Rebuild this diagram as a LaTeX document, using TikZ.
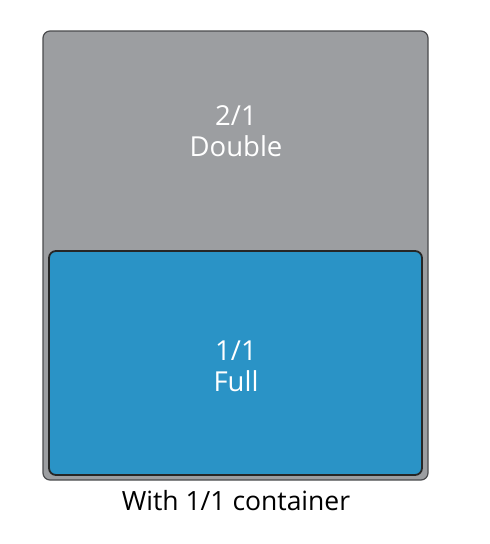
\documentclass[tikz,border=0pt]{standalone}
\usepackage{fontspec}
\setmainfont{Open Sans}
\definecolor{pangray}{HTML}{9C9EA1}
\definecolor{panblue}{HTML}{2A93C6}
\definecolor{edgegray}{HTML}{4A4B4D}
\begin{document}
\begin{tikzpicture}[x=1pt,y=-1pt,
  outerbox/.style={draw=edgegray,line width=1.2pt,fill=pangray,rounded corners=7pt},
  innerbox/.style={draw=black!85,line width=1.8pt,fill=panblue,rounded corners=7pt},
  boxlabel/.style={text=white,font=\fontsize{27.5}{31}\selectfont,align=center},
  caption/.style={text=black,font=\fontsize{26.5}{30}\selectfont}]
\useasboundingbox (0,0) rectangle (490,544);
\draw[outerbox] (43,31) rectangle (428,480);
\draw[innerbox] (49,251) rectangle (422,475);
\node[boxlabel] (dbl) at (236,131) {2/1\\Double};
\node[boxlabel] (full) at (236,366) {1/1\\Full};
\node[caption] (cap) at (236,501) {With 1/1 container};
\end{tikzpicture}
\end{document}
